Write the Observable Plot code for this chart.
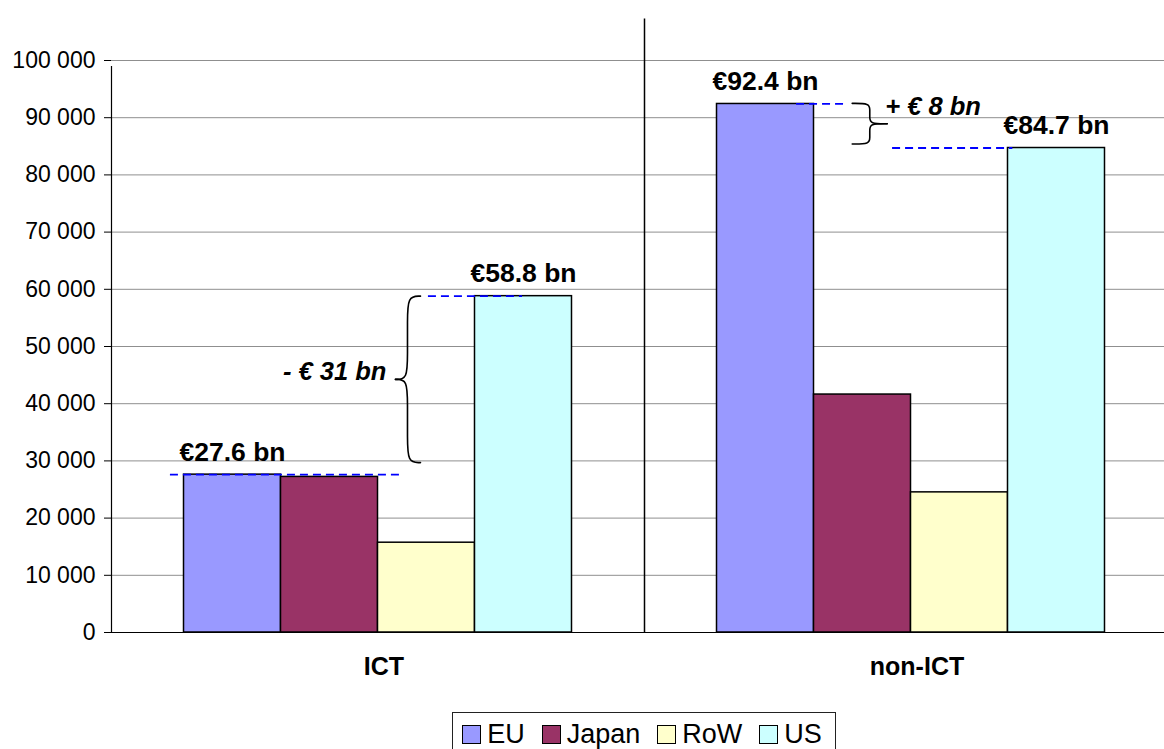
<!DOCTYPE html>
<html>
<head>
<meta charset="utf-8">
<script src="https://cdn.jsdelivr.net/npm/d3@7"></script>
<script src="https://cdn.jsdelivr.net/npm/@observablehq/plot@0.6"></script>
<style>
  html, body { margin: 0; padding: 0; background: #fff; overflow: hidden; }
  #chart svg { max-width: none !important; }
  #legendWrap { margin-left: 111px; width: 1066px; display: flex; justify-content: center; margin-top: 12px; }
  #legend { border: 1px solid #222; padding: 6px 13px 8px 9px; display: flex; align-items: center;
            font-family: "Liberation Sans", Arial, sans-serif; font-size: 27px; line-height: 30px; color: #000; }
  .item { display: flex; align-items: center; margin-right: 17px; }
  .item:last-child { margin-right: 0; }
  .sw { width: 19px; height: 19px; box-sizing: border-box; border: 1.5px solid #000; margin-right: 6px; }
</style>
</head>
<body>
<div id="chart"></div>
<script>
// ---- data ----
const sectors = ["ICT", "non-ICT"];
const regions = ["EU", "Japan", "RoW", "US"];
const colors = ["#9999ff", "#993366", "#ffffcc", "#ccffff"];
const ictValues = [27600, 27200, 15700, 58800];
const nonIctValues = [92400, 41600, 24500, 84700];
const yTicks = [0, 10000, 20000, 30000, 40000, 50000, 60000, 70000, 80000, 90000, 100000];
const labelledRegions = ["EU", "US"];
// gap annotations: compare EU with US in each sector
const gapPairs = [
  {sector: "ICT", from: "EU", to: "US"},
  {sector: "non-ICT", from: "EU", to: "US"}
];

// ---- table ----
const valuesBySector = {"ICT": ictValues, "non-ICT": nonIctValues};
const rows = sectors.flatMap(s => regions.map((r, i) => ({sector: s, region: r, i, value: valuesBySector[s][i]})));
const val = (s, r) => rows.find(d => d.sector === s && d.region === r).value;

// ---- layout (x in bar units inside each sector) ----
const pad = 0.7475;
const xDomain = [-pad, regions.length + pad];

// dashed guide lines (y taken from the bar values)
const dashes = [
  {sector: "ICT", region: "EU", x1: -0.14, x2: 2.23},
  {sector: "ICT", region: "US", x1: 2.52, x2: 3.49},
  {sector: "non-ICT", region: "EU", x1: 0.82, x2: 1.34},
  {sector: "non-ICT", region: "US", x1: 1.81, x2: 3.05}
].map(d => ({...d, y: val(d.sector, d.region)}));

// braces
const braces = [
  {sector: "ICT", tip: 2.438, stem: 2.304, point: 2.18, yA: 58800, yB: 29700, side: "left"},
  {sector: "non-ICT", tip: 1.394, stem: 1.575, point: 1.755, yA: 92500, yB: 85400, side: "right"}
].map((b, k) => {
  const g = gapPairs[k];
  const diff = val(g.sector, g.from) - val(g.sector, g.to);
  return {...b, mid: (b.yA + b.yB) / 2,
    label: `${diff < 0 ? "-" : "+"} € ${Math.round(Math.abs(diff) / 1000)} bn`};
});
const bracePts = braces.flatMap((b, k) => [b.yA, b.yB].flatMap((yEnd, h) => {
  const H = b.mid - yEnd, c = 0.3 * H, key = k + "-" + h;
  return [
    [b.tip, yEnd], [b.stem, yEnd], [b.stem, yEnd + c],
    [b.stem, b.mid - c], [b.stem, b.mid], [b.point, b.mid]
  ].map(([x, y]) => ({sector: b.sector, key, x, y}));
}));

const euro = v => `€${(v / 1000).toFixed(1)} bn`;
const fmt = d => d3.format(",")(d).replace(/,/g, " ");

const FONT = "'Liberation Sans', Arial, sans-serif";

const plot = Plot.plot({
  width: 1177,
  height: 700,
  marginLeft: 111,
  marginRight: 0,
  marginTop: 60,
  marginBottom: 68,
  style: {fontFamily: FONT, fontSize: "22px", color: "#000", background: "#fff", overflow: "visible"},
  fx: {domain: sectors, padding: 0, axis: null, label: null},
  x: {domain: xDomain, axis: null},
  y: {domain: [0, 100000], axis: null},
  color: {domain: regions, range: colors},
  marks: [
    Plot.gridY(yTicks, {stroke: "#8f8f8f", strokeOpacity: 1, strokeWidth: 1}),
    Plot.axisY(yTicks, {tickSize: 7, tickPadding: 9, tickFormat: fmt, fontSize: 23, label: null}),
    // y axis line
    Plot.ruleX([{sector: sectors[0], x: xDomain[0]}], {fx: "sector", x: "x", y1: 0, y2: 100000, insetBottom: -6, stroke: "#000", strokeWidth: 1.2}),
    // divider between the two groups
    Plot.ruleX([{sector: sectors[1], x: xDomain[0]}], {fx: "sector", x: "x", y1: 0, y2: 108500, insetBottom: -7, stroke: "#000", strokeWidth: 1.5}),
    Plot.rectY(rows, {fx: "sector", x1: d => d.i, x2: d => d.i + 1, y: "value", fill: "region", stroke: "#000", strokeWidth: 1.5}),
    Plot.ruleY([0], {stroke: "#000", strokeWidth: 1.2}),
    Plot.ruleY(dashes, {fx: "sector", y: "y", x1: "x1", x2: "x2", stroke: "#0000ff", strokeWidth: 1.8, strokeDasharray: "8,5"}),
    Plot.line(bracePts, {fx: "sector", x: "x", y: "y", z: "key", curve: "basis", stroke: "#000", strokeWidth: 1.6}),
    Plot.text(rows.filter(d => labelledRegions.includes(d.region)), {
      fx: "sector", x: d => d.i + 0.5, y: "value", text: d => euro(d.value),
      dy: -14, lineAnchor: "bottom", fontSize: 26.5, fontWeight: "bold", fill: "#000"
    }),
    Plot.text(braces.filter(b => b.side === "left"), {
      fx: "sector", x: "point", y: "mid", text: "label", textAnchor: "end", lineAnchor: "bottom",
      dx: -9, dy: 1, fontSize: 25.5, fontWeight: "bold", fontStyle: "italic", fill: "#000"
    }),
    Plot.text(braces.filter(b => b.side === "right"), {
      fx: "sector", x: "point", y: "mid", text: "label", textAnchor: "start", lineAnchor: "bottom",
      dx: -2, dy: -9, fontSize: 25.5, fontWeight: "bold", fontStyle: "italic", fill: "#000"
    }),
    // category labels
    Plot.text(sectors, {fx: d => d, text: d => d, frameAnchor: "bottom", lineAnchor: "bottom",
      dx: 6, dy: 42, fontSize: 25, fontWeight: "bold", fill: "#000"})
  ]
});
document.getElementById("chart").appendChild(plot);

// legend below the chart
const wrap = d3.select("body").append("div").attr("id", "legendWrap");
const leg = wrap.append("div").attr("id", "legend");
regions.forEach((r, i) => {
  const it = leg.append("div").attr("class", "item");
  it.append("div").attr("class", "sw").style("background", colors[i]);
  it.append("span").text(r);
});
</script>
</body>
</html>
